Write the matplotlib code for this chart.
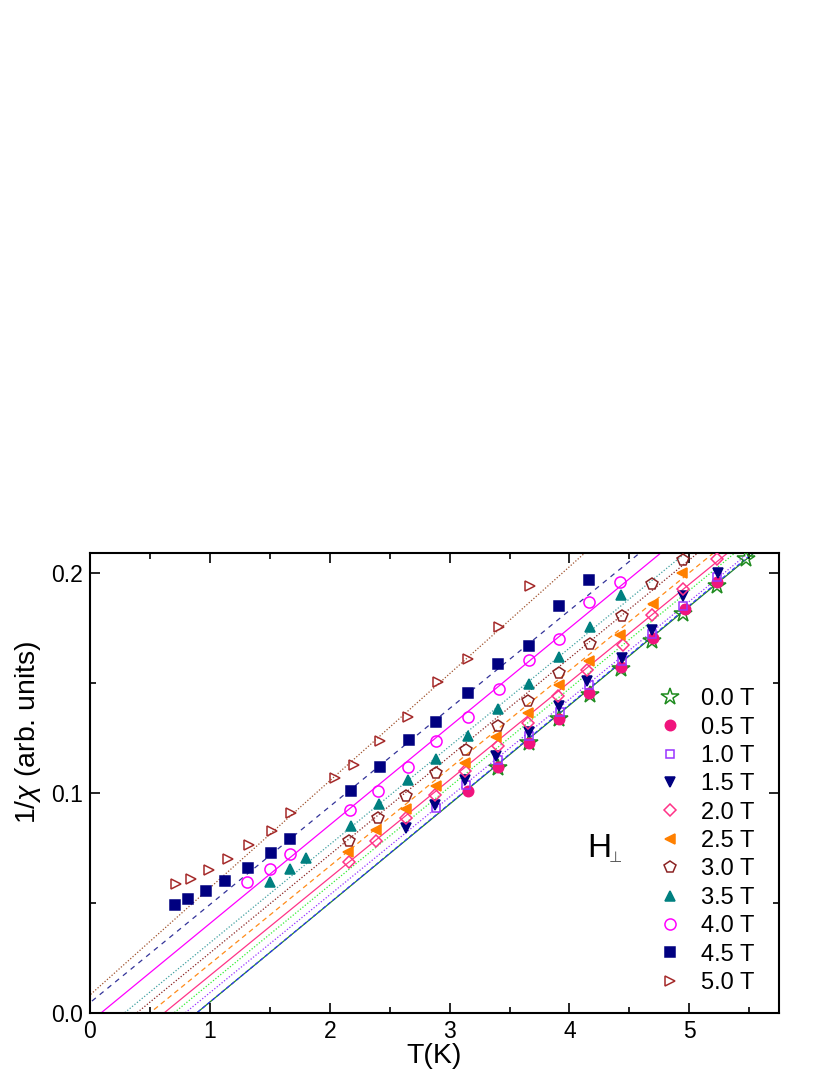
import numpy as np
import matplotlib
matplotlib.use('Agg')
import matplotlib.pyplot as plt

plt.rcParams['font.family'] = ['Liberation Sans', 'DejaVu Sans']
plt.rcParams['mathtext.fontset'] = 'custom'
plt.rcParams['mathtext.rm'] = 'Liberation Sans'
plt.rcParams['mathtext.it'] = 'Liberation Sans:italic'

# field labels
fields = ['0.0 T', '0.5 T', '1.0 T', '1.5 T', '2.0 T', '2.5 T',
          '3.0 T', '3.5 T', '4.0 T', '4.5 T', '5.0 T']

# temperatures (K) and 1/chi for each field
T_00 = [3.40, 3.66, 3.91, 4.17, 4.43, 4.69, 4.95, 5.23, 5.47]
y_00 = [0.1115, 0.1229, 0.1335, 0.1445, 0.1563, 0.1692, 0.1813, 0.1942, 0.2064]
T_05 = [3.15, 3.40, 3.66, 3.91, 4.16, 4.43, 4.70, 4.96, 5.23]
y_05 = [0.1010, 0.1120, 0.1230, 0.1338, 0.1455, 0.1575, 0.1705, 0.1836, 0.196]
T_10 = [2.89, 3.14, 3.40, 3.66, 3.92, 4.16, 4.44, 4.69, 4.95, 5.23]
y_10 = [0.0933, 0.1039, 0.1150, 0.1260, 0.1368, 0.149, 0.160, 0.1722, 0.1851, 0.1985]
T_15 = [2.64, 2.88, 3.13, 3.39, 3.66, 3.91, 4.15, 4.44, 4.69, 4.95, 5.24]
y_15 = [0.0841, 0.0948, 0.1061, 0.1168, 0.1277, 0.1395, 0.151, 0.1616, 0.1742, 0.1897, 0.2003]
T_20 = [2.16, 2.39, 2.64, 2.88, 3.13, 3.40, 3.65, 3.90, 4.15, 4.45, 4.69, 4.95, 5.23]
y_20 = [0.0685, 0.078, 0.0887, 0.099, 0.110, 0.1213, 0.132, 0.1441, 0.1558, 0.1672, 0.1809, 0.193, 0.2064]
T_25 = [2.15, 2.39, 2.64, 2.89, 3.13, 3.39, 3.65, 3.91, 4.16, 4.42, 4.70, 4.94]
y_25 = [0.0732, 0.0831, 0.0928, 0.1034, 0.1138, 0.1254, 0.1365, 0.149, 0.160, 0.1718, 0.1862, 0.200]
T_30 = [2.16, 2.40, 2.64, 2.89, 3.14, 3.40, 3.65, 3.91, 4.17, 4.44, 4.69, 4.95]
y_30 = [0.0784, 0.0887, 0.0985, 0.1092, 0.1194, 0.1306, 0.1421, 0.1548, 0.1677, 0.1805, 0.195, 0.2059]
T_35 = [1.50, 1.67, 1.80, 2.18, 2.41, 2.65, 2.89, 3.15, 3.40, 3.66, 3.91, 4.17, 4.43]
y_35 = [0.0595, 0.0656, 0.0706, 0.0849, 0.0951, 0.1058, 0.1156, 0.1259, 0.1382, 0.1494, 0.1619, 0.1755, 0.190]
T_40 = [1.31, 1.50, 1.67, 2.17, 2.40, 2.65, 2.89, 3.15, 3.41, 3.66, 3.91, 4.16, 4.42]
y_40 = [0.0595, 0.0656, 0.0724, 0.0922, 0.1011, 0.1118, 0.1236, 0.1345, 0.1472, 0.1604, 0.170, 0.1867, 0.1958]
T_45 = [0.71, 0.82, 0.97, 1.13, 1.32, 1.51, 1.67, 2.18, 2.42, 2.66, 2.89, 3.15, 3.40, 3.66, 3.91, 4.16]
y_45 = [0.0489, 0.0519, 0.0556, 0.0601, 0.0659, 0.0728, 0.0791, 0.1008, 0.1119, 0.1241, 0.1324, 0.1453, 0.1585, 0.1669, 0.1851, 0.1968]
T_50 = [0.72, 0.84, 0.99, 1.15, 1.33, 1.52, 1.68, 2.04, 2.20, 2.42, 2.65, 2.90, 3.15, 3.41, 3.67]
y_50 = [0.0586, 0.0610, 0.0651, 0.0700, 0.0765, 0.0829, 0.091, 0.107, 0.113, 0.1236, 0.1347, 0.1505, 0.161, 0.1755, 0.1942]

# Curie-Weiss fit lines: 1/chi = slope * (T - theta)
theta = [0.89, 0.89, 0.793, 0.70, 0.618, 0.50, 0.39, 0.287, 0.092, -0.105, -0.168]
slope = [0.0450, 0.0451, 0.0445, 0.0447, 0.0445, 0.0445, 0.0447, 0.0447, 0.0448, 0.0446, 0.0487]

Ts = [T_00, T_05, T_10, T_15, T_20, T_25, T_30, T_35, T_40, T_45, T_50]
ys = [y_00, y_05, y_10, y_15, y_20, y_25, y_30, y_35, y_40, y_45, y_50]

# marker, size, colour, filled
mk = [('*', 13, '#1E8B1E', False), ('o', 7.5, '#F0147D', True), ('s', 5.5, '#9933FF', False),
      ('v', 7.5, '#000080', True), ('D', 6.5, '#FF3388', False), ('<', 7.5, '#FF8000', True),
      ('p', 8.5, '#8B2323', False), ('^', 7.5, '#008080', True), ('o', 8, '#FF00FF', False),
      ('s', 6.5, '#000080', True), ('>', 7.5, '#A52A2A', False)]
# fit line colour and style
ln = [('#1E8B1E', '-'), ('#3333FF', (0, (3, 2))), ('#9933FF', (0, (1, 1.5))),
      ('#33EE33', (0, (1, 1.5))), ('#FF3388', '-'), ('#FF8C1A', (0, (4, 3))),
      ('#8B2323', (0, (1, 1.5))), ('#40A0A0', (0, (1, 1.5))), ('#FF00FF', '-'),
      ('#333399', (0, (4, 4))), ('#A0522D', (0, (1, 1.5)))]

fig = plt.figure(figsize=(8.3, 10.75), dpi=100)
ax = fig.add_axes([0.1084, 0.0577, 0.8302, 0.4279])

xfit = np.linspace(-0.5, 6, 200)
for i in range(len(fields)):
    c, ls = ln[i]
    ax.plot(xfit, slope[i] * (xfit - theta[i]), color=c, ls=ls, lw=0.9, zorder=1)

for i in range(len(fields)):
    m, s, c, filled = mk[i]
    ax.plot(Ts[i], ys[i], ls='none', marker=m, ms=s, mec=c, mew=1.1,
            mfc=c if filled else 'none', label=fields[i], zorder=3)

ax.set_xlim(0, 5.748)
ax.set_ylim(0, 0.2092)
ax.set_xticks([0, 1, 2, 3, 4, 5])
ax.set_xticks(np.arange(0.5, 5.6, 1.0), minor=True)
ax.set_yticks([0.0, 0.1, 0.2])
ax.set_yticklabels(['0.0', '0.1', '0.2'])
ax.set_yticks([0.05, 0.15], minor=True)
ax.tick_params(which='both', direction='in', top=True, right=True, width=1.2, labelsize=16.5)
ax.tick_params(which='major', length=7, pad=5)
ax.tick_params(which='minor', length=4)
for sp in ax.spines.values():
    sp.set_linewidth(1.5)

ax.set_xlabel('T(K)', fontsize=20.5, labelpad=0)
ax.set_ylabel(r'1/$\it{\chi}$ (arb. units)', fontsize=20.5)
ax.yaxis.set_label_coords(-0.068, 0.61)

ax.text(4.146, 0.071, 'H', fontsize=24, ha='left', va='baseline')
ax.text(4.33, 0.0688, '\u22a5', fontsize=11, ha='left', va='baseline', color='#555555',
        family=['DejaVu Sans'])

ax.legend(loc='upper left', bbox_to_anchor=(0.804, 0.742), frameon=False, fontsize=17,
          handlelength=0.8, handletextpad=0.9, labelspacing=0.27, borderpad=0.2)

fig.savefig('out.png', dpi=100, facecolor='white')
